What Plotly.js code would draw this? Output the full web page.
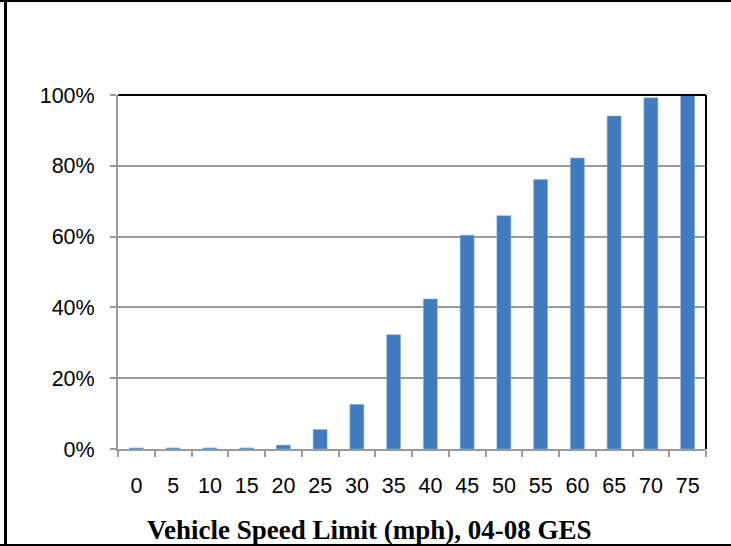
<!DOCTYPE html>
<html>
<head>
<meta charset="utf-8">
<script src="https://cdn.plot.ly/plotly-3.0.1.min.js"></script>
<style>
html,body{margin:0;padding:0;background:#fff;}
#wrap{position:relative;width:731px;height:546px;overflow:hidden;}
#chart{position:absolute;left:0;top:0;width:731px;height:546px;}
.ln{position:absolute;background:#000;pointer-events:none;z-index:5;}
</style>
</head>
<body>
<div id="wrap">
<div id="chart"></div>
<div class="ln" style="left:4px;top:0;width:3px;height:546px;"></div>
<div class="ln" style="left:0;top:0;width:731px;height:2px;"></div>
<div class="ln" style="left:0;top:544px;width:731px;height:2px;"></div>
</div>
<script>
const speedLimits = ["0","5","10","15","20","25","30","35","40","45","50","55","60","65","70","75"];
const cumulativeShare = [0.003,0.003,0.003,0.003,0.011,0.055,0.126,0.323,0.424,0.604,0.659,0.761,0.822,0.941,0.992,1.0];
const yTickVals = [0,0.2,0.4,0.6,0.8,1.0];
const yTickText = ["0%","20%","40%","60%","80%","100%"];
const xTitle = "Vehicle Speed Limit (mph), 04-08 GES";

const trace = {
  type: 'bar',
  x: speedLimits,
  y: cumulativeShare,
  marker: {color: '#3f7bbe', line: {color: '#8fb3de', width: 0.6}},
  hoverinfo: 'none'
};

const tickFont = {family: 'Liberation Sans, Arial, sans-serif', size: 21.5, color: '#000'};

const layout = {
  width: 731, height: 546,
  margin: {l: 118, r: 25, t: 95, b: 97},
  paper_bgcolor: '#fff', plot_bgcolor: '#fff',
  showlegend: false,
  bargap: 0.62,
  font: tickFont,
  xaxis: {
    type: 'category',
    showline: true, linecolor: '#9a9a9a', linewidth: 2,
    ticks: 'outside', tickson: 'boundaries', ticklen: 6, tickwidth: 2, tickcolor: '#9a9a9a',
    ticklabelstandoff: 16,
    showgrid: false, zeroline: false,
    tickfont: tickFont
  },
  yaxis: {
    range: [0, 1],
    tickvals: yTickVals, ticktext: yTickText,
    showline: true, linecolor: '#9a9a9a', linewidth: 2,
    ticks: 'outside', ticklen: 6, tickwidth: 2, tickcolor: '#9a9a9a',
    ticklabelstandoff: 11,
    showgrid: true, gridcolor: '#9a9a9a', gridwidth: 2,
    zeroline: false,
    tickfont: tickFont
  },
  shapes: [
    {type: 'line', xref: 'paper', yref: 'paper', x0: 0, x1: 1, y0: 1, y1: 1, line: {color: '#000', width: 2}},
    {type: 'line', xref: 'paper', yref: 'paper', x0: 1, x1: 1, y0: 0, y1: 1, line: {color: '#000', width: 2}}
  ],
  annotations: [{
    text: '<b>' + xTitle + '</b>',
    xref: 'paper', yref: 'paper',
    x: (369 - 118) / 588, y: -(547 - 449) / 354,
    xanchor: 'center', yanchor: 'bottom', showarrow: false,
    font: {family: 'Liberation Serif, Times New Roman, serif', size: 27, color: '#000'}
  }]
};

Plotly.newPlot('chart', [trace], layout, {displayModeBar: false, staticPlot: true});
</script>
</body>
</html>
